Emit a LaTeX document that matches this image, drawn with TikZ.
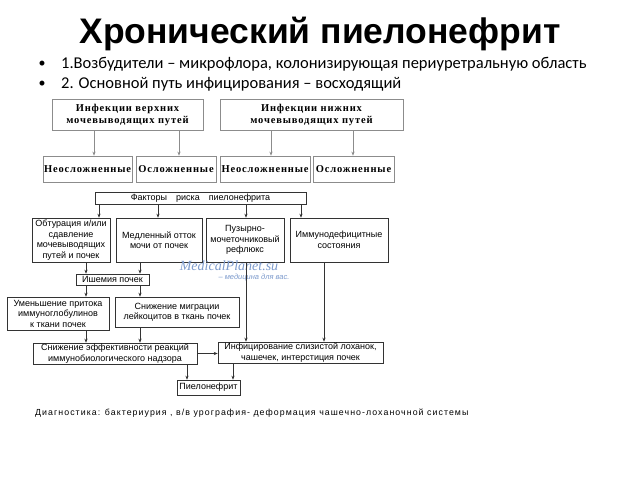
\documentclass[tikz,border=0pt]{standalone}
\usepackage{fontspec}
\setmainfont{Liberation Sans}
\newfontfamily\carlito{Carlito}
\newfontfamily\serbold[LetterSpace=8]{Liberation Serif}
\newfontfamily\wmserif{Liberation Serif}
\newfontfamily\spaced[LetterSpace=12]{Liberation Sans}
\usetikzlibrary{arrows.meta}
\definecolor{wmblue}{RGB}{125,155,205}

\tikzset{
  infbox/.style={draw=black!45, line width=0.7pt, inner sep=1pt, align=center,
    font=\serbold\bfseries\fontsize{10.5}{12}\selectfont},
  factbox/.style={draw=black!80, line width=0.6pt, inner sep=1pt, align=center,
    font=\fontsize{9}{10.5}\selectfont},
  link/.style={->, draw=black!80, line width=0.6pt}
}

\begin{document}
\begin{tikzpicture}[x=1pt, y=-1pt, >={Stealth[length=4pt,width=3.2pt]}]
  \useasboundingbox[fill=white] (0,0) rectangle (640,480);

  \node[font=\bfseries\fontsize{35.5}{40}\selectfont] (title) at (320,34) {Хронический пиелонефрит};
  \node[font=\carlito\fontsize{14}{16}\selectfont] (dot1) at (42,64) {•};
  \node[font=\carlito\fontsize{14}{16}\selectfont] (dot2) at (42,84) {•};
  \node[anchor=west, inner sep=0pt, font=\carlito\fontsize{16.5}{18}\selectfont] (item1) at (61,64)
    {1.Возбудители – микрофлора, колонизирующая периуретральную область};
  \node[anchor=west, inner sep=0pt, font=\carlito\fontsize{16.5}{18}\selectfont] (item2) at (61,84)
    {2. Основной путь инфицирования – восходящий};

  \node[infbox, minimum width=151, minimum height=31] (infup)  at (127.5,114.5) {Инфекции верхних\\мочевыводящих путей};
  \node[infbox, minimum width=183, minimum height=31] (inflow) at (311.5,114.5) {Инфекции нижних\\мочевыводящих путей};
  \node[infbox, minimum width=89, minimum height=26] (simple1)  at (87.5,169) {Неосложненные};
  \node[infbox, minimum width=80, minimum height=26] (compl1)   at (176,169)  {Осложненные};
  \node[infbox, minimum width=90, minimum height=26] (simple2)  at (265,169)  {Неосложненные};
  \node[infbox, minimum width=81, minimum height=26] (compl2)   at (353.5,169) {Осложненные};

  \node[factbox, minimum width=211, minimum height=12] (factors) at (200.5,198) {Факторы\quad риска\quad пиелонефрита};
  \node[factbox, minimum width=78, minimum height=44] (obtur)   at (71,240)  {Обтурация и/или\\сдавление\\мочевыводящих\\путей и почек};
  \node[factbox, minimum width=86, minimum height=44] (slowflow) at (159,240) {Медленный отток\\мочи от почек};
  \node[factbox, minimum width=78, minimum height=44] (reflux)  at (245,240) {Пузырно-\\мочеточниковый\\рефлюкс};
  \node[factbox, minimum width=98, minimum height=44] (immdef)  at (339,240) {Иммунодефицитные\\состояния};
  \node[factbox, minimum width=73, minimum height=11] (ischem)  at (112.5,279.5) {Ишемия почек};
  \node[factbox, minimum width=102, minimum height=33] (igless) at (58,313.5) {Уменьшение притока\\иммуноглобулинов\\к ткани почек};
  \node[factbox, minimum width=124, minimum height=30] (leukmig) at (177,312) {Снижение миграции\\лейкоцитов в ткань почек};
  \node[factbox, minimum width=164, minimum height=21] (effect) at (115,353.5) {Снижение эффективности реакций\\иммунобиологического надзора};
  \node[factbox, minimum width=165, minimum height=21] (mucosa) at (300.5,352.5) {Инфицирование слизистой лоханок,\\чашечек, интерстиция почек};
  \node[factbox, minimum width=63, minimum height=15] (pyelo)  at (208.5,387.5) {Пиелонефрит};

  \node[font=\wmserif\itshape\fontsize{14}{16}\selectfont, text=wmblue, inner sep=0pt] (wmark) at (229,266) {MedicalPlanet.su};
  \node[font=\itshape\fontsize{7.5}{9}\selectfont, text=wmblue, inner sep=0pt] (wmline) at (254,278) {– медицина для вас.};

  \node[anchor=west, inner sep=0pt, font=\spaced\fontsize{8.8}{10}\selectfont] (diag) at (35,413)
    {Диагностика: бактериурия , в/в урография- деформация чашечно-лоханочной системы};

  \foreach \name/\xx in {up1/94, up2/179, lo1/271, lo2/353, f1/99, f2/158, f3/246, f4/301,
                         l/86, r/140, m/324, p1/187, p2/233}
    \coordinate (col-\name) at (\xx,0);

  \draw[link, draw=black!45] (col-up1 |- infup.south)  -- (col-up1 |- simple1.north);
  \draw[link, draw=black!45] (col-up2 |- infup.south)  -- (col-up2 |- compl1.north);
  \draw[link, draw=black!45] (col-lo1 |- inflow.south) -- (col-lo1 |- simple2.north);
  \draw[link, draw=black!45] (col-lo2 |- inflow.south) -- (col-lo2 |- compl2.north);

  \draw[link] (col-f1 |- factors.south) -- (col-f1 |- obtur.north);
  \draw[link] (col-f2 |- factors.south) -- (col-f2 |- slowflow.north);
  \draw[link] (col-f3 |- factors.south) -- (col-f3 |- reflux.north);
  \draw[link] (col-f4 |- factors.south) -- (col-f4 |- immdef.north);

  \draw[link] (col-l |- obtur.south)    -- (col-l |- ischem.north);
  \draw[link] (col-r |- slowflow.south) -- (col-r |- ischem.north);
  \draw[link] (col-l |- ischem.south)   -- (col-l |- igless.north);
  \draw[link] (col-r |- ischem.south)   -- (col-r |- leukmig.north);
  \draw[link] (col-l |- igless.south)   -- (col-l |- effect.north);
  \draw[link] (col-r |- leukmig.south)  -- (col-r |- effect.north);

  \draw[link] (col-f3 |- reflux.south) -- (col-f3 |- mucosa.north);
  \draw[link] (col-m |- immdef.south)  -- (col-m |- mucosa.north);
  \draw[link] (effect.east) -- (effect.east -| mucosa.west);

  \draw[link] (col-p1 |- effect.south) -- (col-p1 |- pyelo.north);
  \draw[link] (col-p2 |- mucosa.south) -- (col-p2 |- pyelo.north);
\end{tikzpicture}
\end{document}
